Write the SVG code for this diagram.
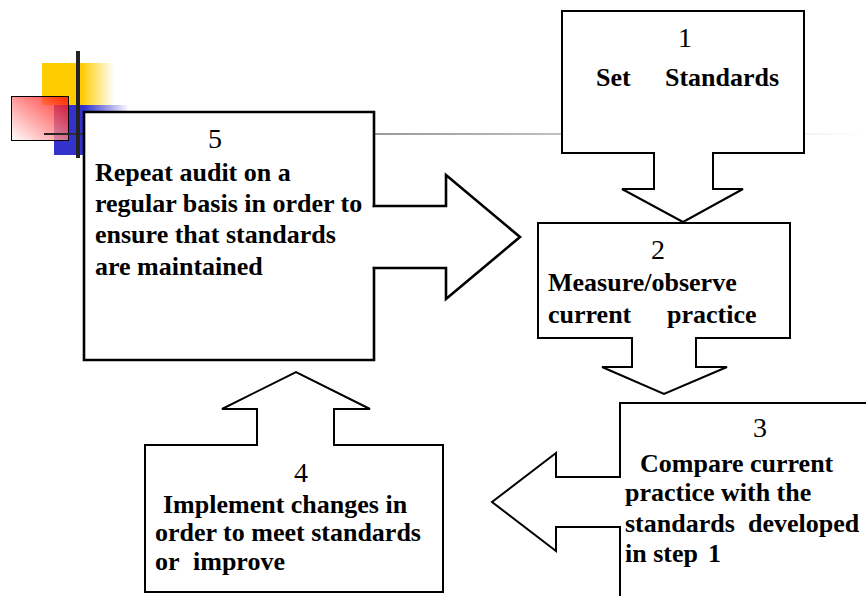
<svg xmlns="http://www.w3.org/2000/svg" width="866" height="596" viewBox="0 0 866 596">
<style>
.box{fill:#fff;stroke:#000;stroke-width:2;stroke-linecap:square;stroke-linejoin:miter}
.b5{stroke-width:2.6}
.num{font-size:28px;fill:#000}
.lbl{font-size:26px;font-weight:bold;fill:#000}
</style>
<defs>
<linearGradient id="gy" x1="0" y1="0" x2="1" y2="0">
<stop offset="0" stop-color="#FFCC00"/>
<stop offset="0.55" stop-color="#FFCC00"/>
<stop offset="1" stop-color="#FFCC00" stop-opacity="0"/>
</linearGradient>
<linearGradient id="gb" x1="0" y1="0" x2="1" y2="0">
<stop offset="0" stop-color="#3333CC"/>
<stop offset="0.4" stop-color="#3333CC"/>
<stop offset="1" stop-color="#3333CC" stop-opacity="0"/>
</linearGradient>
<linearGradient id="gp" x1="1" y1="0" x2="0" y2="1">
<stop offset="0" stop-color="#FF0000"/>
<stop offset="1" stop-color="#FFFFFF"/>
</linearGradient>
<linearGradient id="gl" gradientUnits="userSpaceOnUse" x1="44" y1="0" x2="866" y2="0">
<stop offset="0" stop-color="#222"/>
<stop offset="0.05" stop-color="#333"/>
<stop offset="0.4" stop-color="#999"/>
<stop offset="1" stop-color="#fff"/>
</linearGradient>
</defs>
<g id="decoration">
<rect x="42" y="63" width="72" height="42" fill="url(#gy)"/>
<rect x="54" y="105" width="75" height="50" fill="url(#gb)"/>
<rect x="11.5" y="96.5" width="57" height="44" fill="url(#gp)" fill-opacity="0.8" stroke="#000" stroke-width="1"/>
<line x1="44" y1="134" x2="866" y2="134" stroke="url(#gl)" stroke-width="2"/>
<line x1="78" y1="51" x2="78" y2="158" stroke="#222" stroke-width="4"/>
</g>
<g font-family="Liberation Serif, Tinos, Times New Roman, DejaVu Serif, serif">
<g id="node5">
<path class="box b5" d="M374,206 V112 H84 V360 H374 V268"/>
<text class="num" x="208" y="148">5</text>
<text class="lbl"><tspan x="95" y="181">Repeat audit on a</tspan><tspan x="95" y="212">regular basis in order to</tspan><tspan x="95" y="243">ensure that standards</tspan><tspan x="95" y="275">are maintained</tspan></text>
</g>
<g id="node1">
<path class="box" d="M713,153 H804 V11 H562 V153 H654"/>
<text class="num" x="678" y="47">1</text>
<text class="lbl" y="86"><tspan x="596">Set</tspan><tspan x="665">Standards</tspan></text>
</g>
<g id="node2">
<path class="box" d="M696,338 H790 V223 H538 V338 H632"/>
<text class="num" x="651" y="259">2</text>
<text class="lbl"><tspan x="548" y="291">Measure/observe</tspan><tspan x="548" y="323">current</tspan><tspan x="667" y="323">practice</tspan></text>
</g>
<g id="node3">
<path class="box" d="M620,527 V597 M620,477 V403 H867" fill="none"/>
<text class="num" x="753" y="437">3</text>
<text class="lbl"><tspan x="640" y="472">Compare current</tspan><tspan x="625" y="501">practice with the</tspan><tspan x="625" y="532">standards</tspan><tspan x="748" y="532">developed</tspan><tspan x="625" y="562">in step</tspan><tspan x="708" y="562">1</tspan></text>
</g>
<g id="node4">
<path class="box" d="M334,445 H443 V592 H145 V445 H257"/>
<text class="num" x="294" y="482">4</text>
<text class="lbl"><tspan x="163" y="513">Implement changes in</tspan><tspan x="155" y="541">order to meet standards</tspan><tspan x="155" y="570">or</tspan><tspan x="193" y="570">improve</tspan></text>
</g>
</g>
<g id="connectors">
<path class="box b5" d="M374,206 H446 V175 L520,237 L446,299 V268 H374"/>
<path class="box" d="M654,153 V189 H622 L683,222 L743,189 H713 V153"/>
<path class="box" d="M632,338 V367 H602 L664,394 L727,367 H696 V338"/>
<path class="box" d="M620,477 H556 V453 L492,502 L556,551 V527 H620"/>
<path class="box" d="M257,445 V409 H222 L296,372 L370,409 H334 V445"/>
</g>
</svg>
